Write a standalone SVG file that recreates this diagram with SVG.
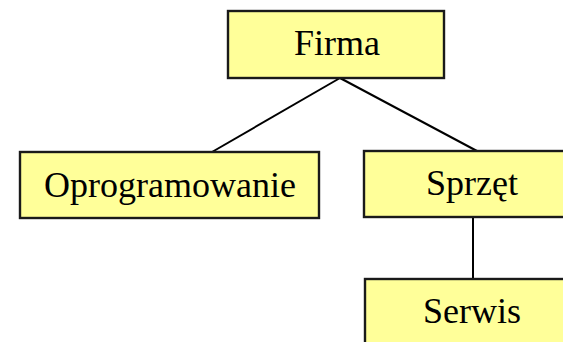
<svg xmlns="http://www.w3.org/2000/svg" width="563" height="342" viewBox="0 0 563 342">
<style>
.box{fill:#FFFF99;stroke:#1a1a1a;stroke-width:2.4}
.lbl{font-family:"Liberation Serif","Times New Roman",serif;font-size:36px;fill:#000;text-anchor:middle}
.conn{stroke:#000;stroke-width:2;fill:none}
</style>
<rect width="563" height="342" fill="#fff"/>
<g id="connectors">
<path class="conn" d="M340 78 L212 152"/>
<path class="conn" d="M340 78 L477 151"/>
<path class="conn" d="M473 217 L473 279"/>
</g>
<g id="firma">
<rect class="box" x="228" y="11" width="216" height="67"/>
<text class="lbl" x="337" y="55">Firma</text>
</g>
<g id="oprogramowanie">
<rect class="box" x="20" y="152" width="299" height="66"/>
<text class="lbl" x="170" y="197">Oprogramowanie</text>
</g>
<g id="sprzet">
<rect class="box" x="364" y="151" width="216" height="66"/>
<text class="lbl" x="472" y="195">Sprzęt</text>
</g>
<g id="serwis">
<rect class="box" x="365" y="279" width="216" height="66"/>
<text class="lbl" x="472" y="323">Serwis</text>
</g>
</svg>
